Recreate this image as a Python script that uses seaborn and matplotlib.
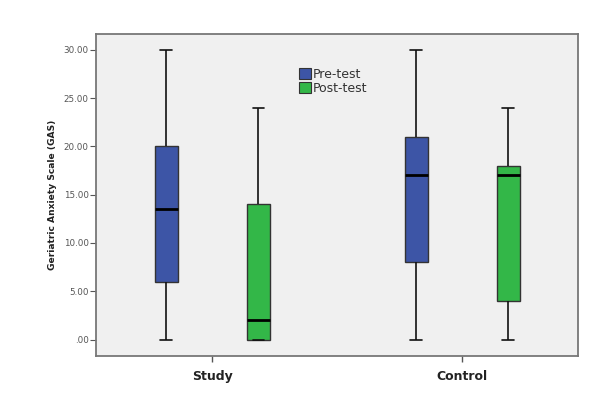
import numpy as np
import pandas as pd
import matplotlib
matplotlib.use("Agg")
import matplotlib.pyplot as plt
import seaborn as sns
from matplotlib.patches import Patch

groups = ["Study", "Control"]
tests = ["Pre-test", "Post-test"]
# five-number summaries (min, Q1, median, Q3, max)
study_pre = [0, 6, 13.5, 20, 30]
study_post = [0, 0, 2, 14, 24]
control_pre = [0, 8, 17, 21, 30]
control_post = [0, 4, 17, 18, 24]
yticks = [0, 5, 10, 15, 20, 25, 30]
ytick_labels = [".00", "5.00", "10.00", "15.00", "20.00", "25.00", "30.00"]
colors = {"Pre-test": "#3D55A6", "Post-test": "#33B748"}

rows = []
for g, t, vals in [("Study", "Pre-test", study_pre), ("Study", "Post-test", study_post),
                   ("Control", "Pre-test", control_pre), ("Control", "Post-test", control_post)]:
    for v in vals:
        rows.append({"group": g, "test": t, "GAS": v})
df = pd.DataFrame(rows)

sns.set_style("white")
fig = plt.figure(figsize=(6.06, 3.94), dpi=100)
ax = fig.add_axes([0.158, 0.0964, 0.796, 0.8176])
ax.set_facecolor("#F0F0F0")

sns.boxplot(data=df, x="group", y="GAS", hue="test", order=groups, hue_order=tests,
            palette=colors, whis=(0, 100), width=0.737, gap=0.75, ax=ax,
            linecolor="#333333", linewidth=1.0,
            medianprops=dict(color="black", linewidth=2.0),
            whiskerprops=dict(color="#111111", linewidth=1.2),
            capprops=dict(color="#111111", linewidth=1.2),
            saturation=1, legend=False)

ax.set_ylim(-1.71, 31.66)
ax.set_xlim(-0.466, 1.464)
ax.set_yticks(yticks)
ax.set_yticklabels(ytick_labels, fontsize=6.3, color="#555555")
ax.set_xticks([0, 1])
ax.set_xticklabels(groups, fontsize=9, fontweight="bold", color="#222222")
ax.tick_params(axis="y", direction="out", length=4, width=0.8, color="#555555", left=True, pad=1)
ax.tick_params(axis="x", direction="out", length=4, width=1.0, color="#555555", bottom=True, pad=6)
ax.set_xlabel("")
ax.set_ylabel("Geriatric Anxiety Scale (GAS)", fontsize=6.6, fontweight="bold", color="#222222", labelpad=5)
for s in ax.spines.values():
    s.set_color("#777777")
    s.set_linewidth(1.3)

handles = [Patch(facecolor=colors[t], edgecolor="#333333", linewidth=0.8, label=t) for t in tests]
ax.legend(handles=handles, loc="upper left", bbox_to_anchor=(0.41, 0.91), frameon=False,
          fontsize=9, handlelength=1.0, handleheight=0.95, handletextpad=0.15, labelspacing=0.1,
          borderaxespad=0, labelcolor="#333333")

fig.savefig("out.png", dpi=100, facecolor="white")
